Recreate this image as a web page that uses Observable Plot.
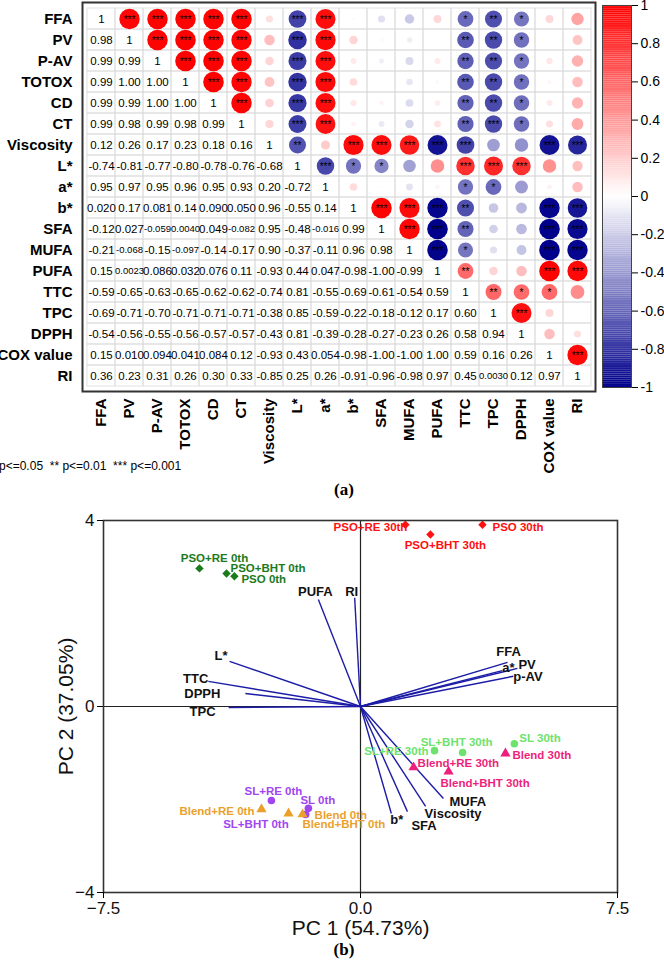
<!DOCTYPE html>
<html><head><meta charset="utf-8">
<script src="https://cdn.jsdelivr.net/npm/d3@7"></script>
<script src="https://cdn.jsdelivr.net/npm/@observablehq/plot@0.6"></script>
<style>
body{margin:0;background:#fff;font-family:Arial,"Liberation Sans",sans-serif;}
#root{position:relative;width:664px;height:961px;overflow:hidden;background:#fff;}
.abs{position:absolute;}
.cap{font-family:"Liberation Serif","Times New Roman",serif;font-weight:bold;font-size:17px;width:60px;text-align:center;}
</style></head><body><div id="root"></div>
<script>
// ---------------- DATA: correlation matrix (a) ----------------
const vars = ["FFA","PV","P-AV","TOTOX","CD","CT","Viscosity","L*","a*","b*","SFA","MUFA","PUFA","TTC","TPC","DPPH","COX value","RI"];
// lower triangle, row by row (row PV .. RI), as printed
const corrLower = [
  ["0.98"],
  ["0.99","0.99"],
  ["0.99","1.00","1.00"],
  ["0.99","0.99","1.00","1.00"],
  ["0.99","0.98","0.99","0.98","0.99"],
  ["0.12","0.26","0.17","0.23","0.18","0.16"],
  ["-0.74","-0.81","-0.77","-0.80","-0.78","-0.76","-0.68"],
  ["0.95","0.97","0.95","0.96","0.95","0.93","0.20","-0.72"],
  ["0.020","0.17","0.081","0.14","0.090","0.050","0.96","-0.55","0.14"],
  ["-0.12","0.027","-0.059","0.0040","0.049","-0.082","0.95","-0.48","-0.016","0.99"],
  ["-0.21","-0.068","-0.15","-0.097","-0.14","-0.17","0.90","-0.37","-0.11","0.96","0.98"],
  ["0.15","0.0023","0.086","0.032","0.076","0.11","-0.93","0.44","0.047","-0.98","-1.00","-0.99"],
  ["-0.59","-0.65","-0.63","-0.65","-0.62","-0.62","-0.74","0.81","-0.55","-0.69","-0.61","-0.54","0.59"],
  ["-0.69","-0.71","-0.70","-0.71","-0.71","-0.71","-0.38","0.85","-0.59","-0.22","-0.18","-0.12","0.17","0.60"],
  ["-0.54","-0.56","-0.55","-0.56","-0.57","-0.57","-0.43","0.81","-0.39","-0.28","-0.27","-0.23","0.26","0.58","0.94"],
  ["0.15","0.010","0.094","0.041","0.084","0.12","-0.93","0.43","0.054","-0.98","-1.00","-1.00","1.00","0.59","0.16","0.26"],
  ["0.36","0.23","0.31","0.26","0.30","0.33","-0.85","0.25","0.26","-0.91","-0.96","-0.98","0.97","0.45","0.0030","0.12","0.97"]
];
// significance stars in upper triangle (row FFA .. COX value), columns to the right of the diagonal
const sigUpper = [
  [3,3,3,3,3,0,3,3,0,0,0,0,1,2,1,0,0],
  [3,3,3,3,0,3,3,0,0,0,0,2,2,1,0,0],
  [3,3,3,0,3,3,0,0,0,0,2,2,1,0,0],
  [3,3,0,3,3,0,0,0,0,2,2,1,0,0],
  [3,0,3,3,0,0,0,0,2,2,1,0,0],
  [0,3,3,0,0,0,0,2,3,1,0,0],
  [2,0,3,3,3,3,3,0,0,3,3],
  [3,1,1,0,0,3,3,3,0,0],
  [0,0,0,0,1,1,0,0,0],
  [3,3,3,2,0,0,3,3],
  [3,3,2,0,0,3,3],
  [3,1,0,0,3,3],
  [2,0,0,3,3],
  [2,1,1,0],
  [3,0,0],
  [0,0],
  [3]
];
const colorbarTicks = [1,0.8,0.6,0.4,0.2,0,-0.2,-0.4,-0.6,-0.8,-1];
const sigNote = "* p<=0.05  ** p<=0.01  *** p<=0.001";

// ---------------- DATA: PCA biplot (b) ----------------
const sampleNames = ["PSO+RE 30th","PSO 30th","PSO+BHT 30th","PSO+RE 0th","PSO+BHT 0th","PSO 0th",
  "SL+RE 30th","SL+BHT 30th","SL 30th","Blend 30th","Blend+RE 30th","Blend+BHT 30th",
  "SL+RE 0th","SL 0th","SL+BHT 0th","Blend+RE 0th","Blend 0th","Blend+BHT 0th"];
const sampleGroup = ["PSO 30th","PSO 30th","PSO 30th","PSO 0th","PSO 0th","PSO 0th",
  "SL 30th","SL 30th","SL 30th","Blend 30th","Blend 30th","Blend 30th",
  "SL 0th","SL 0th","SL 0th","Blend 0th","Blend 0th","Blend 0th"];
const samplePC1 = [1.31,3.56,2.04,-4.70,-3.91,-3.68, 2.16,2.98,4.49,4.23,1.55,2.57, -2.60,-1.52,-1.60,-2.89,-1.69,-2.10];
const samplePC2 = [3.91,3.91,3.70,2.97,2.86,2.80, -0.95,-0.99,-0.80,-1.01,-1.31,-1.40, -2.02,-2.19,-2.32,-2.21,-2.32,-2.30];
const loadingNames = ["PUFA","RI","L*","TTC","DPPH","TPC","FFA","a*","PV","p-AV","MUFA","Viscosity","SFA","b*"];
const loadingPC1 = [-1.23,-0.17,-3.82,-4.44,-3.36,-3.85,4.29,4.14,4.58,4.46,2.42,1.90,1.37,0.90];
const loadingPC2 = [2.30,2.34,0.97,0.54,0.28,-0.02,0.95,0.77,0.82,0.65,-1.98,-2.15,-2.26,-2.30];
const pcaTicksX = [-7.5,0,7.5];
const pcaTicksY = [-4,0,4];

// ---------------- STYLE / LAYOUT ----------------
const FONT = "Arial, 'Liberation Sans', sans-serif";
const corrColor = {type:"linear", domain:[-1,0,1], range:["#00008B","#ffffff","#ff0000"]};
const groupColor = {"PSO 30th":"#ff1010","PSO 0th":"#1b7a1b","SL 30th":"#6ee26e","SL 0th":"#a046ee","Blend 30th":"#ee1f7c","Blend 0th":"#eaa12c"};
const groupShape = {"PSO":"diamond2","SL":"circle","Blend":"triangle"};
const sampleLabelPos = {
  "PSO+RE 30th":["end",2,3],"PSO 30th":["start",10,3],"PSO+BHT 30th":["middle",15,11],
  "PSO+RE 0th":["middle",15,-10],"PSO+BHT 0th":["start",4,-5],"PSO 0th":["start",7,3],
  "SL+RE 30th":["end",-6,1],"SL+BHT 30th":["middle",-6,-10],"SL 30th":["start",5,-5],
  "Blend 30th":["start",7,2],"Blend+RE 30th":["start",4,-4],"Blend+BHT 30th":["start",-8,12],
  "SL+RE 0th":["middle",2,-9],"SL 0th":["start",-8,-8],"SL+BHT 0th":["end",-17,10],
  "Blend+RE 0th":["end",-7,2],"Blend 0th":["start",12,1],"Blend+BHT 0th":["start",14,11]
};
const loadingLabelPos = {
  "PUFA":["middle",-3,-8],"RI":["middle",-3,-6],"L*":["end",-2,-6],"TTC":["end",0,-3],
  "DPPH":["end",-25,0],"TPC":["end",-13,4],"FFA":["middle",1,-10],"a*":["start",0,-3],
  "PV":["start",1,-4],"p-AV":["start",0,1],"MUFA":["start",6,3],"Viscosity":["start",-1,7],
  "SFA":["start",4,14],"b*":["start",-1,6]
};

const root = document.getElementById("root");
function place(node, left, top) {
  const d = document.createElement("div");
  d.className = "abs"; d.style.left = left + "px"; d.style.top = top + "px";
  d.appendChild(node); root.appendChild(d); return d;
}
const svgStyle = {fontFamily: FONT, color: "#000", background: "transparent", overflow: "visible", maxWidth: "none"};

// ---------- build cell table ----------
const cells = [];
vars.forEach((rv, i) => vars.forEach((cv, j) => {
  let v, s = null, stars = 0;
  if (i === j) { v = 1; s = "1"; }
  else if (i > j) { s = corrLower[i-1][j]; v = +s; }
  else { s = corrLower[j-1][i]; v = +s; stars = sigUpper[i][j-i-1]; }
  cells.push({row: rv, col: cv, i, j, v, s, stars});
}));
const upper = cells.filter(d => d.j > d.i);
const lower = cells.filter(d => d.j <= d.i);

const plotA = Plot.plot({
  width: 600, height: 480,
  marginLeft: 82, marginRight: 5, marginTop: 2, marginBottom: 89,
  x: {domain: vars, padding: 0},
  y: {domain: vars, padding: 0},
  r: {domain: [0, 1], range: [0, 10.3]},
  color: corrColor,
  style: svgStyle,
  marks: [
    Plot.cell(cells, {x: "col", y: "row", fill: "none", stroke: "#dadada", strokeWidth: 0.8}),
    Plot.dot(upper, {x: "col", y: "row", r: d => Math.abs(d.v), fill: "v", stroke: "none"}),
    Plot.text(upper.filter(d => d.stars > 0), {x: "col", y: "row", text: d => "*".repeat(d.stars), fontSize: 10, fill: "#000", dy: 1}),
    Plot.text(lower, {x: "col", y: "row", text: "s", fontSize: d => d.s.length > 5 ? 9.5 : 11.5, fill: "#000"}),
    Plot.axisY({label: null, tickSize: 0, tickPadding: 10, fontSize: 15, fontWeight: "bold", fill: "#000"}),
    Plot.axisX({label: null, anchor: "bottom", tickSize: 0, tickPadding: 7, tickRotate: -90, fontSize: 15, fontWeight: "bold", fill: "#000"}),
    Plot.frame({stroke: "#333", strokeWidth: 2})
  ]
});
place(plotA, 0, 0);

// ---------- colour bar ----------
const cbSteps = d3.range(-1, 1, 0.01);
const colorbar = Plot.plot({
  width: 69, height: 395,
  marginLeft: 7, marginRight: 33, marginTop: 5, marginBottom: 8,
  x: {domain: [0, 1], axis: null},
  y: {domain: [-1, 1]},
  color: corrColor,
  style: svgStyle,
  marks: [
    Plot.rect(cbSteps, {x1: 0, x2: 1, y1: d => d, y2: d => d + 0.0102, fill: d => d + 0.005}),
    Plot.frame({stroke: "#444", strokeWidth: 1}),
    Plot.axisY({anchor: "right", label: null, ticks: colorbarTicks, tickFormat: d => String(d), tickSize: 6, tickPadding: 3, fontSize: 14, fill: "#000"})
  ]
});
place(colorbar, 595, 0);

// ---------- note and (a) ----------
const note = document.createElement("div");
note.textContent = sigNote;
note.style.cssText = "font:12px Arial,'Liberation Sans',sans-serif;white-space:pre;color:#000;";
place(note, -9, 459);
const capA = document.createElement("div"); capA.className = "cap"; capA.textContent = "(a)";
place(capA, 314, 480);

// ---------- PCA biplot ----------
const samples = sampleNames.map((n, k) => ({name: n, x: samplePC1[k], y: samplePC2[k], group: sampleGroup[k], kind: sampleGroup[k].split(" ")[0]}));
const loadings = loadingNames.map((n, k) => ({name: n, x: loadingPC1[k], y: loadingPC2[k]}));

const loadingLabelMarks = loadings.map(d => {
  const [a, dx, dy] = loadingLabelPos[d.name];
  return Plot.text([d], {x: "x", y: "y", text: "name", textAnchor: a, dx, dy, fontSize: 13, fontWeight: "bold", fill: "#111"});
});
const sampleLabelMarks = samples.map(d => {
  const [a, dx, dy] = sampleLabelPos[d.name];
  return Plot.text([d], {x: "x", y: "y", text: "name", textAnchor: a, dx, dy, fontSize: 11.5, fontWeight: "bold", fill: groupColor[d.group]});
});

const plotB = Plot.plot({
  width: 664, height: 430,
  marginLeft: 103, marginRight: 47, marginTop: 10, marginBottom: 48,
  x: {domain: [-7.5, 7.5]},
  y: {domain: [-4, 4]},
  symbol: {domain: Object.keys(groupShape), range: Object.values(groupShape)},
  style: svgStyle,
  marks: [
    Plot.ruleX([0], {stroke: "#222", strokeWidth: 1.2}),
    Plot.ruleY([0], {stroke: "#222", strokeWidth: 1.2}),
    Plot.link(loadings, {x1: 0, y1: 0, x2: "x", y2: "y", stroke: "#1c1ca6", strokeWidth: 1.4}),
    ...loadingLabelMarks,
    Plot.dot(samples, {x: "x", y: "y", symbol: "kind", fill: d => groupColor[d.group], stroke: "none", r: 3.8}),
    ...sampleLabelMarks,
    Plot.frame({stroke: "#333", strokeWidth: 1.6}),
    Plot.axisX({label: null, ticks: pcaTicksX, tickFormat: d3.format(".1f"), tickSize: 6, tickPadding: 3, fontSize: 17, fill: "#111"}),
    Plot.axisY({label: null, ticks: pcaTicksY, tickSize: 6, tickPadding: 3, fontSize: 17, fill: "#111"}),
    Plot.text(["PC 1 (54.73%)"], {frameAnchor: "bottom", textAnchor: "middle", lineAnchor: "middle", dy: 36, fontSize: 21, fill: "#111"}),
    Plot.text(["PC 2 (37.05%)"], {frameAnchor: "left", textAnchor: "middle", lineAnchor: "middle", dx: -37, rotate: -90, fontSize: 21, fill: "#111"})
  ]
});
place(plotB, 0, 510);

const capB = document.createElement("div"); capB.className = "cap"; capB.textContent = "(b)";
place(capB, 314, 940);
</script>
</body></html>
